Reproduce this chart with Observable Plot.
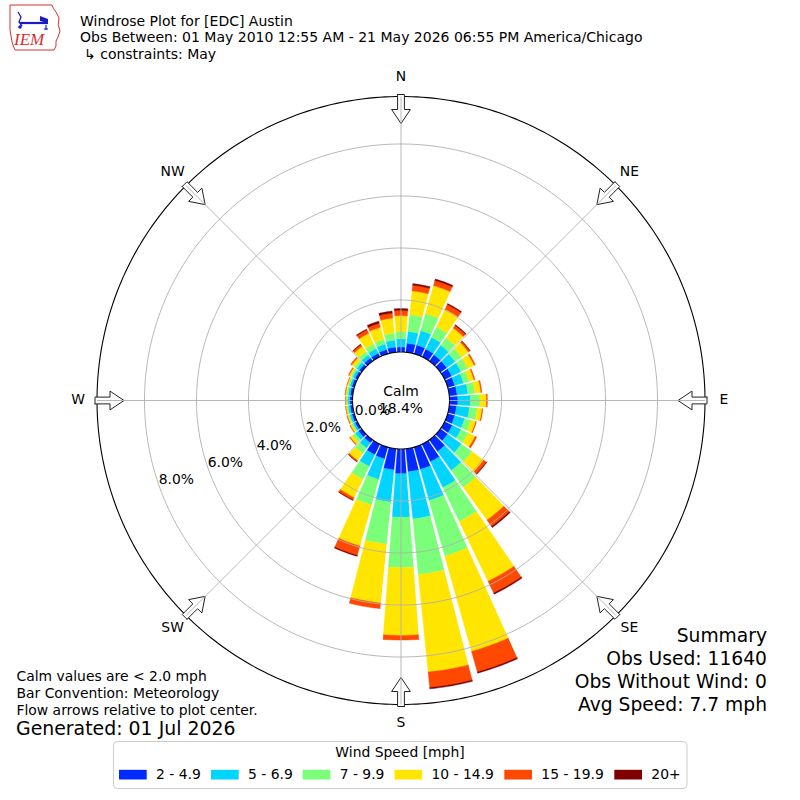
<!DOCTYPE html>
<html>
<head>
<meta charset="utf-8">
<script src="https://cdn.jsdelivr.net/npm/d3@7"></script>
<script src="https://cdn.jsdelivr.net/npm/@observablehq/plot@0.6"></script>
<style>
  body { margin: 0; background: #fff; font-family: "DejaVu Sans", sans-serif; }
  #wrap { position: relative; width: 800px; height: 800px; overflow: hidden; background: #fff; }
  #chart, #overlay { position: absolute; left: 0; top: 0; }
  #overlay { pointer-events: none; }
</style>
</head>
<body>
<div id="wrap">
  <div id="chart"></div>
  <svg id="overlay" width="800" height="800"></svg>
</div>
<script>
// ---------------- data ----------------
const titleLines = [
  "Windrose Plot for [EDC] Austin",
  "Obs Between: 01 May 2010 12:55 AM - 21 May 2026 06:55 PM America/Chicago",
  "\u21b3 constraints: May"
];
const noteLines = [
  "Calm values are < 2.0 mph",
  "Bar Convention: Meteorology",
  "Flow arrows relative to plot center."
];
const generatedText = "Generated: 01 Jul 2026";
const summaryLines = ["Summary", "Obs Used: 11640", "Obs Without Wind: 0", "Avg Speed: 7.7 mph"];
const legendTitle = "Wind Speed [mph]";

const calmLabel = "Calm";
const calmPercent = 18.4;

const directions = [0, 10, 20, 30, 40, 50, 60, 70, 80, 90, 100, 110, 120, 130, 140, 150, 160, 170,
                    180, 190, 200, 210, 220, 230, 240, 250, 260, 270, 280, 290, 300, 310, 320, 330, 340, 350];
const speedBins = ["2 - 4.9", "5 - 6.9", "7 - 9.9", "10 - 14.9", "15 - 19.9", "20+"];
const binColors = ["#002aff", "#00d4ff", "#7bff7b", "#ffe500", "#ff4800", "#800000"];

// percent frequency per direction for each speed bin
const spd2to5 = [0.19, 0.35, 0.35, 0.33, 0.30, 0.30, 0.30, 0.28, 0.30, 0.32, 0.28, 0.28, 0.33, 0.35, 0.55, 0.75, 0.89, 0.89,
                 0.95, 0.82, 0.47, 0.45, 0.15, 0.15, 0.10, 0.10, 0.10, 0.10, 0.10, 0.10, 0.10, 0.12, 0.15, 0.15, 0.17, 0.20];
const spd5to7 = [0.32, 0.45, 0.58, 0.50, 0.45, 0.40, 0.40, 0.35, 0.42, 0.49, 0.50, 0.40, 0.37, 0.65, 0.90, 1.10, 1.24, 1.82,
                 1.67, 1.24, 0.82, 0.50, 0.25, 0.15, 0.08, 0.08, 0.08, 0.08, 0.08, 0.08, 0.10, 0.12, 0.15, 0.20, 0.22, 0.27];
const spd7to10 = [0.28, 0.65, 0.68, 0.45, 0.35, 0.30, 0.28, 0.22, 0.27, 0.36, 0.30, 0.25, 0.30, 0.50, 0.80, 1.45, 2.22, 2.15,
                  1.94, 1.62, 1.02, 0.55, 0.25, 0.12, 0.06, 0.05, 0.05, 0.05, 0.06, 0.06, 0.07, 0.10, 0.15, 0.20, 0.20, 0.27];
const spd10to15 = [0.61, 0.92, 1.12, 0.75, 0.47, 0.33, 0.28, 0.20, 0.23, 0.25, 0.19, 0.19, 0.30, 0.55, 1.55, 2.55, 3.81, 3.77,
                   2.61, 2.28, 1.64, 0.78, 0.33, 0.12, 0.06, 0.05, 0.04, 0.03, 0.05, 0.05, 0.08, 0.13, 0.25, 0.45, 0.47, 0.58];
const spd15to20 = [0.20, 0.22, 0.20, 0.20, 0.12, 0.07, 0.05, 0.04, 0.04, 0.04, 0.03, 0.03, 0.07, 0.13, 0.30, 0.50, 0.82, 0.60,
                   0.18, 0.22, 0.37, 0.10, 0.05, 0.03, 0.02, 0.02, 0.01, 0.01, 0.01, 0.01, 0.03, 0.05, 0.08, 0.15, 0.16, 0.19];
const spd20plus = [0.07, 0.06, 0.06, 0.04, 0.03, 0.01, 0.00, 0.00, 0.00, 0.00, 0.00, 0.00, 0.00, 0.02, 0.05, 0.05, 0.05, 0.05,
                   0.00, 0.00, 0.04, 0.02, 0.01, 0.00, 0.00, 0.00, 0.00, 0.00, 0.00, 0.00, 0.00, 0.00, 0.02, 0.03, 0.08, 0.08];

const ringValues = [2, 4, 6, 8];
const ringTickValues = [0, 2, 4, 6, 8];
const ringTickLabels = ["0.0%", "2.0%", "4.0%", "6.0%", "8.0%"];
const compassDirs = [0, 45, 90, 135, 180, 225, 270, 315];
const compassLabels = ["N", "NE", "E", "SE", "S", "SW", "W", "NW"];

// ---------------- geometry helpers (layout, not data) ----------------
const W = 800, H = 800;
const CX = 400.5, CY = 400;      // plot centre in px
const PX = 26;                   // px per percent
const calmR = 48.5 / PX;         // radius of calm circle (scale units)
const outerR = 304 / PX;
const compassR = 323 / PX;
const opening = 8.6;             // bar angular width (deg)
const rad = d => d * Math.PI / 180;
const pt = (deg, r) => [r * Math.sin(rad(deg)), r * Math.cos(rad(deg))];

const seriesByBin = [spd2to5, spd5to7, spd7to10, spd10to15, spd15to20, spd20plus];

// bar polygons
const barRows = [];
directions.forEach((dir, i) => {
  let base = calmR;
  seriesByBin.forEach((arr, k) => {
    const v = arr[i];
    if (!(v > 0)) return;
    const top = base + v;
    const id = dir + "-" + k;
    const n = 10;
    for (let j = 0; j <= n; j++) {
      const [x, y] = pt(dir - opening / 2 + opening * j / n, top);
      barRows.push({id, bin: speedBins[k], x, y});
    }
    for (let j = n; j >= 0; j--) {
      const [x, y] = pt(dir - opening / 2 + opening * j / n, base);
      barRows.push({id, bin: speedBins[k], x, y});
    }
    base = top;
  });
});

function circleRows(r, key) {
  const rows = [];
  for (let a = 0; a <= 360; a += 1) {
    const [x, y] = pt(a, r);
    rows.push({key, x, y});
  }
  return rows;
}
const ringRows = ringValues.flatMap(p => circleRows(calmR + p, p));
const calmRows = circleRows(calmR, "calm");
const outerRows = circleRows(outerR, "outer");

// open arrows at the compass points, pointing to the centre
const arrowShape = [[306, -3.4], [291, -3.4], [291, -9.4], [277, 0], [291, 9.4], [291, 3.4], [306, 3.4], [306, -3.4]];
const arrowRows = compassDirs.flatMap(dir => arrowShape.map(([along, lat]) => {
  const s = Math.sin(rad(dir)), c = Math.cos(rad(dir));
  return {dir, x: (along * s + lat * c) / PX, y: (along * c - lat * s) / PX};
}));

const spokes = compassDirs.map(dir => {
  const [x1, y1] = pt(dir, calmR);
  const [x2, y2] = pt(dir, outerR);
  return {x1, y1, x2, y2};
});

const compassRows = compassDirs.map((dir, i) => {
  const [x, y] = pt(dir, compassR);
  return {x, y, label: compassLabels[i]};
});

const tickAngle = 250.5;
const tickRows = ringTickValues.map((p, i) => {
  const [x, y] = pt(tickAngle, calmR + p - 0.7);
  return {x, y, label: ringTickLabels[i]};
});

const chart = Plot.plot({
  width: W,
  height: H,
  margin: 0,
  style: {fontFamily: "DejaVu Sans, sans-serif", background: "transparent", overflow: "visible"},
  x: {domain: [-CX / PX, (W - CX) / PX], axis: null},
  y: {domain: [-(H - CY) / PX, CY / PX], axis: null},
  color: {domain: speedBins, range: binColors},
  marks: [
    Plot.line(barRows, {x: "x", y: "y", z: "id", fill: "bin", stroke: "bin", strokeWidth: 0.4}),
    Plot.line(ringRows, {x: "x", y: "y", z: "key", stroke: "#b0b0b0", strokeWidth: 0.9}),
    Plot.line(calmRows, {x: "x", y: "y", fill: "white", stroke: "black", strokeWidth: 1.1}),
    Plot.line(outerRows, {x: "x", y: "y", stroke: "black", strokeWidth: 1.1}),
    Plot.line(arrowRows, {x: "x", y: "y", z: "dir", fill: "white", stroke: "#222", strokeWidth: 1}),
    Plot.link(spokes, {x1: "x1", y1: "y1", x2: "x2", y2: "y2", stroke: "#b0b0b0", strokeWidth: 0.9}),
    Plot.text(compassRows, {x: "x", y: "y", text: "label", fontSize: 13.9, dy: -1, fill: "black"}),
    Plot.text(tickRows, {x: "x", y: "y", text: "label", fontSize: 13.9, fill: "black"}),
    Plot.text([{x: 0, y: 0, t: calmLabel + "\n" + calmPercent.toFixed(1) + "%"}],
      {x: "x", y: "y", text: "t", fontSize: 13.9, lineHeight: 1.2, dy: -1.5, fill: "black"})
  ]
});
document.getElementById("chart").appendChild(chart);

// ---------------- overlay: title, notes, summary, legend, logo ----------------
const svg = d3.select("#overlay");
const ff = "DejaVu Sans, sans-serif";

// logo
const logo = svg.append("g");
logo.append("path")
  .attr("d", "M10,5 L52,5 Q53,9 56,12 L59,18 Q57,25 60,31 L58,37 Q55,41 56,46 L54,50 L15,50 Q13,46 12,42 Q11,36 10,30 Z")
  .attr("fill", "none").attr("stroke", "#d43030").attr("stroke-width", 1);
logo.append("line").attr("x1", 20).attr("y1", 23).attr("x2", 48).attr("y2", 23).attr("stroke", "#1a1acc").attr("stroke-width", 2.2);
logo.append("path").attr("d", "M40,16 L48,19 L48,23 L40,21 Z").attr("fill", "#1a1acc");
logo.append("path").attr("d", "M18,12 L21,17 L19,22 L22,26").attr("fill", "none").attr("stroke", "#1a1acc").attr("stroke-width", 1.3);
logo.append("circle").attr("cx", 20).attr("cy", 27).attr("r", 1.8).attr("fill", "#1a1acc");
logo.append("path").attr("d", "M46,25 L46,30 M44,29 L48,29").attr("stroke", "#1a1acc").attr("stroke-width", 1.2);
logo.append("text").attr("x", 14).attr("y", 45).attr("font-family", "Liberation Serif, serif")
  .attr("font-style", "italic").attr("font-size", 17).attr("fill", "#d43030").text("IEM");

// title
const titleBaselines = [25.5, 42, 58.5];
titleLines.forEach((t, i) => {
  svg.append("text").attr("x", i === 2 ? 84 : 80).attr("y", titleBaselines[i])
    .attr("font-family", ff).attr("font-size", 14).attr("fill", "black").text(t);
});

// notes
[680.5, 697.5, 714.5].forEach((y, i) => {
  svg.append("text").attr("x", 16.5).attr("y", y).attr("font-family", ff)
    .attr("font-size", 13.9).attr("fill", "black").text(noteLines[i]);
});
svg.append("text").attr("x", 16).attr("y", 734.5).attr("font-family", ff)
  .attr("font-size", 18.9).attr("fill", "black").text(generatedText);

// summary
[641.5, 664.8, 688, 711].forEach((y, i) => {
  svg.append("text").attr("x", 767).attr("y", y).attr("text-anchor", "end").attr("font-family", ff)
    .attr("font-size", 18.7).attr("fill", "black").text(summaryLines[i]);
});

// legend
svg.append("rect").attr("x", 113.5).attr("y", 741.5).attr("width", 573.5).attr("height", 47)
  .attr("rx", 4).attr("fill", "white").attr("stroke", "#cccccc").attr("stroke-width", 1);
svg.append("text").attr("x", 400).attr("y", 757).attr("text-anchor", "middle").attr("font-family", ff)
  .attr("font-size", 13.9).attr("fill", "black").text(legendTitle);
const legendX = [119, 211, 302.7, 394.5, 504.3, 614.3];
speedBins.forEach((b, i) => {
  const lx = legendX[i];
  svg.append("rect").attr("x", lx).attr("y", 769.8).attr("width", 27.7).attr("height", 9.7).attr("fill", binColors[i]);
  svg.append("text").attr("x", lx + 27.7 + 9.3).attr("y", 779.2).attr("font-family", ff)
    .attr("font-size", 13.9).attr("fill", "black").text(b);
});
</script>
</body>
</html>
